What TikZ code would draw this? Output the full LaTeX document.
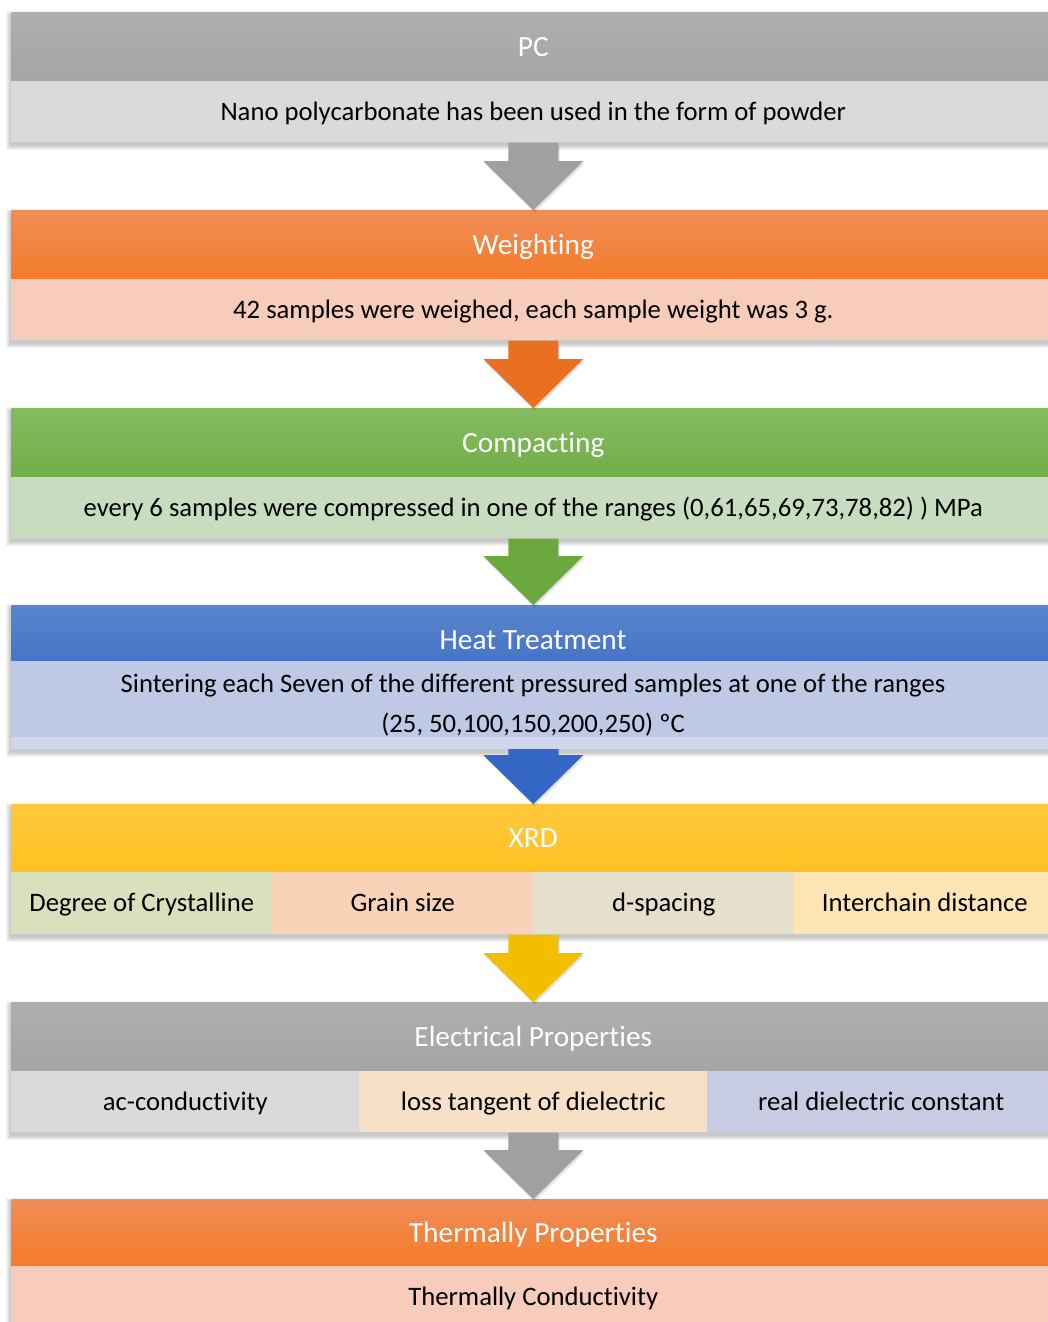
\documentclass[tikz,border=0pt]{standalone}
\usepackage{fontspec}
\setmainfont{Carlito}[Ligatures={NoCommon,NoContextual},RawFeature={-liga;-clig;-calt}]
\usetikzlibrary{calc}
\pgfdeclarelayer{bg}
\pgfsetlayers{bg,main}

\definecolor{gTop}{HTML}{AEAEAE}
\definecolor{gBot}{HTML}{A5A5A5}
\definecolor{gBody}{HTML}{DADADA}
\definecolor{gArr}{HTML}{A0A0A0}
\definecolor{oTop}{HTML}{F08D58}
\definecolor{oBot}{HTML}{F47B28}
\definecolor{oBody}{HTML}{F7CCBA}
\definecolor{oArr}{HTML}{EA7020}
\definecolor{grTop}{HTML}{84BB5F}
\definecolor{grBot}{HTML}{72AE49}
\definecolor{grBody}{HTML}{C8DDBF}
\definecolor{grArr}{HTML}{6BA83E}
\definecolor{bTop}{HTML}{5A84CD}
\definecolor{bBot}{HTML}{4674C6}
\definecolor{bBody}{HTML}{BFC9E6}
\definecolor{bStrip}{HTML}{CFD6EC}
\definecolor{bArr}{HTML}{3366C5}
\definecolor{yTop}{HTML}{FFC93D}
\definecolor{yBot}{HTML}{FFC121}
\definecolor{yArr}{HTML}{F2BF00}
\definecolor{xcA}{HTML}{D8E0BC}
\definecolor{xcB}{HTML}{F8D3B8}
\definecolor{xcC}{HTML}{E5DFCB}
\definecolor{xcD}{HTML}{FFE5B3}
\definecolor{ecA}{HTML}{DADADA}
\definecolor{ecB}{HTML}{F6E1C7}
\definecolor{ecC}{HTML}{C7CCE2}

\newcommand\dropshadow[2]{%
  \begin{pgfonlayer}{bg}
  \foreach \r in {0,...,4}{
    \fill[black,opacity=0.045] ($(#1.north west)+(-1.5-\r,3-\r)$) rectangle ($(#2.south east)+(-1.5+\r,3+\r)$);
  }
  \end{pgfonlayer}}

\newcommand\blockarrow[3]{%
  \foreach \r in {1,2,3}{
    \fill[black,opacity=0.05]
      ($(#1.south)+(-25+0.5*\r,1+\r)$) -- ($(#1.south)+(25+0.5*\r,1+\r)$) --
      ($(#2.north)+(25+0.5*\r,-49+\r)$) -- ($(#2.north)+(50+0.5*\r,-49+\r)$) --
      ($(#2.north)+(0.5*\r,\r)$) --
      ($(#2.north)+(-50+0.5*\r,-49+\r)$) -- ($(#2.north)+(-25+0.5*\r,-49+\r)$) -- cycle;
  }
  \fill[#3]
      ($(#1.south)+(-25,0)$) -- ($(#1.south)+(25,0)$) --
      ($(#2.north)+(25,-49)$) -- ($(#2.north)+(50,-49)$) --
      (#2.north) --
      ($(#2.north)+(-50,-49)$) -- ($(#2.north)+(-25,-49)$) -- cycle;}

\begin{document}
\begin{tikzpicture}[x=0.75pt,y=-0.75pt,
  txt/.style={inner sep=0pt,font=\fontsize{20}{24}\selectfont,text height=12.9pt,text depth=0pt},
  htxtbase/.style={inner sep=0pt,font=\fontsize{22}{26}\selectfont,text height=14.2pt,text depth=0pt},
  hdr/.style={htxtbase,anchor=north west,text=white,minimum width=783pt},
  bdy/.style={txt,anchor=north west,text=black,minimum width=783pt},
  cellx/.style={txt,anchor=north west,text=black,minimum width=195.75pt,minimum height=46.5pt},
  celle/.style={txt,anchor=north west,text=black,minimum width=261pt,minimum height=45.75pt},
  htxt/.style={htxtbase,text=white},
  btxt/.style={txt,text=black}]
\useasboundingbox (0,0) rectangle (1048,1322);
\begin{pgfonlayer}{bg}
\fill[white] (0,0) rectangle (1048,1322);
\end{pgfonlayer}

% PC
\node[hdr,minimum height=51.75pt,top color=gTop,bottom color=gBot] (pch) at (11,12) {PC};
\node[bdy,minimum height=45.75pt,fill=gBody] (pcb) at (11,81) {Nano polycarbonate has been used in the form of powder};
\dropshadow{pch}{pcb}

% Weighting
\node[hdr,minimum height=51.75pt,top color=oTop,bottom color=oBot] (wh) at (11,210) {Weighting};
\node[bdy,minimum height=45.75pt,fill=oBody] (wb) at (11,279) {42 samples were weighed, each sample weight was 3 g.};
\dropshadow{wh}{wb}

% Compacting
\node[hdr,minimum height=51.75pt,top color=grTop,bottom color=grBot] (ch) at (11,408) {Compacting};
\node[bdy,minimum height=45.75pt,fill=grBody] (cb) at (11,477) {every 6 samples were compressed in one of the ranges (0,61,65,69,73,78,82) ) MPa};
\dropshadow{ch}{cb}

% Heat treatment
\node[hdr,minimum height=42pt,top color=bTop,bottom color=bBot] (hh) at (11,605) {};
\node[htxt] (hht) at (533,640) {Heat Treatment};
\node[bdy,minimum height=57pt,fill=bBody] (hb) at (11,661) {};
\node[btxt] (hbt1) at (533,684) {Sintering each Seven of the different pressured samples at one of the ranges};
\node[btxt] (hbt2) at (533,723.5) {(25, 50,100,150,200,250) ºC};

% XRD
\node[hdr,minimum height=51pt,top color=yTop,bottom color=yBot] (xh) at (11,804) {XRD};
\node[bdy,minimum height=46.5pt] (xb) at (11,872) {};
\node[cellx,fill=xcA] (x1) at (11,872) {Degree of Crystalline};
\node[cellx,fill=xcB] (x2) at (272,872) {Grain size};
\node[cellx,fill=xcC] (x3) at (533,872) {d-spacing};
\node[cellx,fill=xcD] (x4) at (794,872) {Interchain distance};
\dropshadow{xh}{xb}

% Electrical
\node[hdr,minimum height=51.75pt,top color=gTop,bottom color=gBot] (eh) at (11,1002) {Electrical Properties};
\node[bdy,minimum height=45.75pt] (eb) at (11,1071) {};
\node[celle,fill=ecA] (e1) at (11,1071) {ac-conductivity};
\node[celle,fill=ecB] (e2) at (359,1071) {loss tangent of dielectric};
\node[celle,fill=ecC] (e3) at (707,1071) {real dielectric constant};
\dropshadow{eh}{eb}

% Thermal
\node[hdr,minimum height=50.25pt,top color=oTop,bottom color=oBot] (th) at (11,1199) {Thermally Properties};
\node[bdy,minimum height=45.75pt,fill=oBody] (tb) at (11,1266) {Thermally Conductivity};
\dropshadow{th}{tb}

% arrows
\blockarrow{pcb}{wh}{gArr}
\blockarrow{wb}{ch}{oArr}
\blockarrow{cb}{hh}{grArr}
\blockarrow{hb}{xh}{bArr}
\blockarrow{xb}{eh}{yArr}
\blockarrow{eb}{th}{gArr}

% heat strip (over the arrow shaft)
\node[anchor=north west,inner sep=0pt,minimum width=783pt,minimum height=9pt,fill=bStrip] (hs) at (11,737) {};
\dropshadow{hh}{hs}
\end{tikzpicture}
\end{document}
